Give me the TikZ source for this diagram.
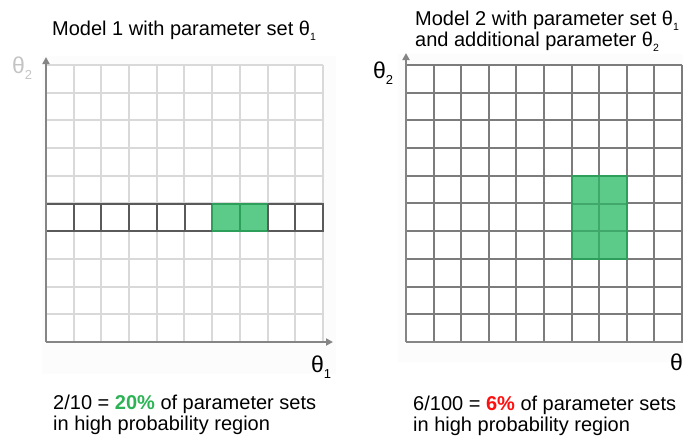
\documentclass[tikz,border=0pt]{standalone}
\usepackage{fontspec}
\setmainfont{Liberation Sans}
\usetikzlibrary{arrows.meta}
\definecolor{gridlight}{HTML}{D9D9D9}
\definecolor{griddark}{HTML}{7C7C7C}
\definecolor{rowdark}{HTML}{5A5A5A}
\definecolor{axisgray}{HTML}{858585}
\definecolor{greenfill}{HTML}{5CCB8A}
\definecolor{greenedge}{HTML}{2E9E5B}
\definecolor{greeninner}{HTML}{3FA86A}
\definecolor{greentext}{HTML}{2DB355}
\definecolor{redtext}{HTML}{FF1010}
\definecolor{labelgray}{HTML}{C4C4C4}
\definecolor{panelbg}{HTML}{FCFCFC}
\newcommand\mysub[1]{\raisebox{-0.5ex}{\fontsize{10.5}{11}\selectfont #1}}
\newcommand\axsub[1]{\raisebox{-0.5ex}{\fontsize{13}{14}\selectfont #1}}
\tikzset{
  txt/.style={anchor=base west, inner sep=0pt, font=\fontsize{20}{22}\selectfont, text=black},
  titletxt/.style={anchor=base west, inner sep=0pt, font=\fontsize{20}{22}\selectfont, text=black},
  axtxt/.style={anchor=base west, inner sep=0pt, font=\fontsize{23}{24}\selectfont, text=black},
  axisline/.style={draw=axisgray, line width=2.2pt, -{Triangle[length=7pt,width=7pt]}},
  lightgrid/.style={draw=gridlight, line width=1.2pt},
  darkgrid/.style={draw=griddark, line width=2pt},
  rowbox/.style={draw=rowdark, line width=1.5pt},
  greencell/.style={fill=greenfill, draw=greenedge, line width=1.2pt},
  greenline/.style={draw=greeninner, line width=2pt},
}
\begin{document}
\begin{tikzpicture}[x=1pt,y=-1pt]
\useasboundingbox (0,0) rectangle (683,437);
% faint panel backgrounds
\fill[panelbg] (42,56) rectangle (336,374);
\fill[panelbg] (398,54) rectangle (683,362);
\fill[white] (46,65) rectangle (323,342);
\fill[white] (406,65) rectangle (682,342);
% ---------- left panel ----------
\foreach \i in {0,...,10} {
  \pgfmathtruncatemacro\lxx{round(46+27.7*\i)}
  \pgfmathtruncatemacro\lyy{round(65+27.7*\i)}
  \draw[lightgrid] (\lxx,65) -- (\lxx,342);
  \draw[lightgrid] (46,\lyy) -- (323,\lyy);
}
\fill[white] (46,204) rectangle (323,231);
\draw[greencell] (212,204) rectangle (268,231);
\draw[greenedge, line width=1.2pt] (240,204) -- (240,231);
\foreach \xx in {74,101,129,157,185,295} {
  \draw[rowdark, line width=1.5pt] (\xx,204) -- (\xx,231);
}
\draw[rowbox] (46,204) -- (212,204);
\draw[rowbox] (46,231) -- (212,231);
\draw[rowbox] (268,204) -- (323,204) -- (323,231) -- (268,231);
\draw[rowbox] (268,204) -- (268,231);
\coordinate (lo) at (46,342);
\coordinate (ly) at (46,57);
\coordinate (lx) at (333,342);
\draw[axisline] (lo) -- (ly);
\draw[axisline] (lo) -- (lx);
\node[titletxt] (ltitle) at (52,35) {Model 1 with parameter set θ\mysub{1}};
\node[axtxt, text=labelgray] (lth2) at (12,73) {θ\axsub{2}};
\node[axtxt] (lth1) at (311,372) {θ\axsub{1}};
\node[txt] (lres1) at (53,409) {2/10 = \textcolor{greentext}{\textbf{20\%}} of parameter sets};
\node[txt] (lres2) at (53,430) {in high probability region};
% ---------- right panel ----------
\foreach \i in {0,...,10} {
  \pgfmathtruncatemacro\rxx{round(406+27.6*\i)}
  \pgfmathtruncatemacro\ryy{round(65+27.7*\i)}
  \draw[darkgrid] (\rxx,65) -- (\rxx,342);
  \draw[darkgrid] (406,\ryy) -- (682,\ryy);
}
\fill[greenfill] (572,176) rectangle (627,259);
\draw[greenline] (599,176) -- (599,259);
\draw[greenline] (572,204) -- (627,204);
\draw[greenline] (572,231) -- (627,231);
\draw[greenedge, line width=1.6pt] (572,176) rectangle (627,259);
\coordinate (ro) at (406,342);
\coordinate (ry) at (406,53);
\coordinate (rx) at (690,342);
\draw[axisline] (ro) -- (ry);
\draw[axisline] (ro) -- (rx);
\node[titletxt] (rtitle1) at (415,25) {Model 2 with parameter set θ\mysub{1}};
\node[titletxt] (rtitle2) at (415,46) {and additional parameter θ\mysub{2}};
\node[axtxt] (rth2) at (373,78) {θ\axsub{2}};
\node[axtxt] (rth1) at (670,370) {θ};
\node[txt] (rres1) at (413,410) {6/100 = \textcolor{redtext}{\textbf{6\%}} of parameter sets};
\node[txt] (rres2) at (413,431) {in high probability region};
\end{tikzpicture}
\end{document}
